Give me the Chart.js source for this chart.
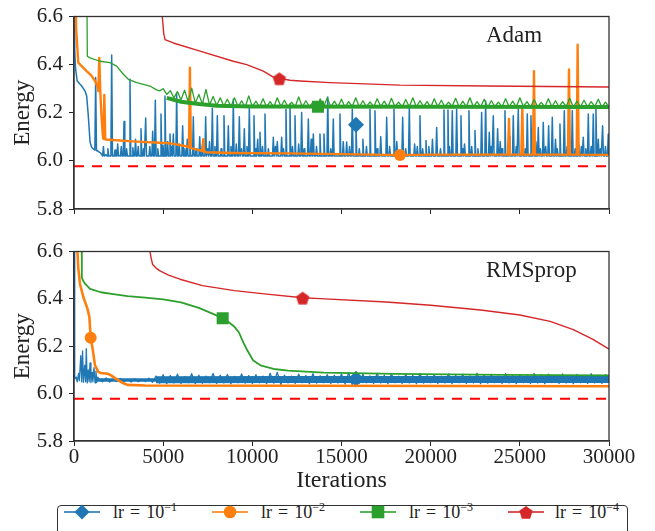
<!DOCTYPE html>
<html>
<head>
<meta charset="utf-8">
<script src="https://cdn.jsdelivr.net/npm/chart.js@4.4.0/dist/chart.umd.min.js"></script>
<style>
  body { margin: 0; width: 655px; height: 531px; overflow: hidden; background: #fff; font-family: "Liberation Serif", serif; }
  .panel { position: absolute; left: 0; width: 655px; }
  #legend { position: absolute; left: 57px; top: 505px; width: 569px; height: 40px; border: 1px solid #333; border-radius: 4px; color: #222; }
  #legend svg { position: absolute; top: -3px; }
  #legend .txt { position: absolute; top: -4px; font-size: 18px; line-height: 20px; white-space: nowrap; }
  #legend .txt sup { font-size: 12px; vertical-align: 7px; line-height: 0; }
  #legend .eq { margin: 0 6px; }
</style>
</head>
<body>
<div class="panel" style="top:0;height:235px"><canvas id="adam"></canvas></div>
<div class="panel" style="top:235px;height:265px"><canvas id="rms"></canvas></div>
<div id="legend"></div>

<script>
const ITER_MAX = 30000;
const ENERGY_MIN = 5.8;
const ENERGY_MAX = 6.6;
const X_STEP = 5000;
const Y_STEP = 0.2;
const EXACT_ENERGY = 5.978;
const PANEL_TITLES = ['Adam', 'RMSprop'];
const LR_EXPONENTS = ['\u22121', '\u22122', '\u22123', '\u22124'];
const COLORS = ['#1f77b4', '#ff7f0e', '#2ca02c', '#d62728'];

// ---- Adam, lr = 1e-1 (blue): smooth start, then flat floor with needle spikes
const adamBlueBase = [[0,6.9],[40,6.46],[90,6.38],[180,6.332],[430,6.311],[620,6.29],[710,6.27],[800,6.19],[900,6.078],[990,6.057],[1080,6.05],[1170,6.045],[1260,6.042],[1500,6.032],[1800,6.026],[2500,6.022],[30000,6.02]];
const adamBlueFloor = 6.02;
const adamBlueSpikes = [[1215,6.346,6.045],[1650,6.06],[2113,6.44],[2450,6.07],[2804,6.164],[3140,6.339],[3450,6.09],[3757,6.133],[4020,6.178],[4412,6.123],[4560,6.252],[4878,6.195],[5102,6.27],[5250,6.08],[5383,6.112],[5570,6.112],[5757,6.281],[6093,6.146],[6350,6.09],[6691,6.183],[7050,6.1],[7383,6.183],[7600,6.08],[7757,6.219],[8037,6.188],[8411,6.188],[8654,6.146],[8934,6.256],[9100,6.07],[9271,6.183],[9551,6.133],[9832,6.222],[10093,6.188],[10300,6.09],[10429,6.119],[10710,6.195],[11177,6.098],[11400,6.08],[11644,6.098],[11887,6.215],[12111,6.236],[12392,6.188],[12600,6.07],[12765,6.201],[13140,6.174],[13300,6.09],[13420,6.112],[13793,6.112],[14017,6.112],[14230,6.265],[14540,6.174],[14915,6.195],[15100,6.08],[15289,6.078],[15606,6.215],[15813,6.15],[16200,6.09],[16597,6.215],[16877,6.208],[17200,6.1],[17533,6.181],[17943,6.215],[18100,6.08],[18430,6.181],[18803,6.222],[19100,6.07],[19400,6.188],[19737,6.085],[20100,6.09],[20336,6.139],[20746,6.211],[20970,6.211],[21213,6.208],[21456,6.215],[21699,6.188],[21900,6.07],[22147,6.208],[22484,6.126],[22858,6.201],[23082,6.249],[23287,6.119],[23512,6.188],[23755,6.133],[23900,6.08],[24166,6.208],[24400,6.1],[24633,6.188],[24914,6.215],[25138,6.085],[25418,6.195],[25624,6.188],[25900,6.08],[26035,6.139],[26315,6.16],[26614,6.146],[26820,6.181],[27000,6.09],[27250,6.153],[27493,6.208],[27942,6.208],[28300,6.07],[28558,6.098],[28839,6.195],[29119,6.195],[29268,6.215],[29400,6.09],[29642,6.146],[29960,6.112]];
// small flickers on the floor
const adamBlueFlickers = [[1900,6.05],[2300,6.045],[2650,6.06],[2950,6.05],[3300,6.055],[3600,6.06],[3900,6.05],[4250,6.06],[4700,6.05],[4990,6.065],[5470,6.06],[5900,6.07],[6220,6.05],[6500,6.06],[6850,6.05],[7200,6.065],[7500,6.05],[7900,6.06],[8250,6.05],[8800,6.06],[9400,6.05],[9700,6.06],[10200,6.05],[10570,6.06],[10900,6.05],[11300,6.06],[11750,6.05],[12250,6.06],[12900,6.05],[13600,6.06],[14400,6.05],[15450,6.06],[16000,6.05],[16400,6.06],[17000,6.05],[17700,6.06],[18600,6.05],[19250,6.06],[19550,6.05],[19900,6.06],[20550,6.05],[21050,6.06],[21800,6.05],[22300,6.06],[22650,6.05],[23400,6.06],[24000,6.05],[24800,6.06],[25300,6.05],[25750,6.06],[26150,6.05],[26450,6.06],[27100,6.05],[27650,6.06],[28100,6.05],[28450,6.06],[28700,6.05],[29000,6.06],[29520,6.05],[29800,6.06]];
const adamBlueMarker = [15813, 6.15];

// ---- Adam, lr = 1e-2 (orange)
const adamOrangeBase = [[60,6.9],[120,6.55],[240,6.408],[430,6.394],[710,6.373],[990,6.353],[1200,6.33],[1350,6.3],[1540,6.19],[1610,6.11],[1660,6.095],[1760,6.089],[3500,6.08],[5380,6.073],[6100,6.064],[6400,6.058],[6600,6.052],[6900,6.047],[7100,6.043],[7400,6.036],[8900,6.033],[12000,6.031],[15000,6.028],[20000,6.026],[30000,6.025]];
const adamOrangeFloor = 6.026;
const adamOrangeSpikes = [[1419,6.428,6.29],[1700,6.274,6.092],[6500,6.387,6.055],[7250,6.09,6.04],[24390,6.174],[25138,6.222],[25792,6.373],[27755,6.38],[28242,6.483]];
const adamOrangeMarker = [18279, 6.024];

// ---- Adam, lr = 1e-3 (green): smooth start, solid band core, noise sampled every 200 iterations
const adamGreenBase = [[700,6.9],[748,6.435],[897,6.428],[1458,6.414],[2019,6.408],[2392,6.394],[2766,6.36],[3046,6.339],[3514,6.325],[4261,6.311],[4600,6.296]];
const adamGreenCore = [[5200,6.262],[6000,6.246],[7000,6.236],[8000,6.229],[10000,6.226],[20000,6.225],[30000,6.224]];
const adamGreenNoiseStart = 4800;
const adamGreenNoiseStep = 200;
const adamGreenNoise = [
  6.291,6.300,6.276,6.292,6.262,6.288,6.253,6.294,6.246,6.302,
  6.240,6.276,6.236,6.297,6.232,6.268,6.230,6.262,6.228,6.256,
  6.226,6.262,6.225,6.250,6.224,6.270,6.226,6.248,6.224,6.258,
  6.225,6.246,6.223,6.262,6.226,6.252,6.224,6.244,6.225,6.266,
  6.224,6.250,6.226,6.243,6.222,6.258,6.225,6.262,6.224,6.248,
  6.225,6.256,6.223,6.246,6.226,6.262,6.224,6.250,6.225,6.245,
  6.224,6.258,6.226,6.248,6.223,6.260,6.225,6.244,6.224,6.255,
  6.225,6.262,6.224,6.250,6.226,6.246,6.223,6.258,6.225,6.252,
  6.224,6.244,6.226,6.260,6.223,6.248,6.225,6.262,6.224,6.246,
  6.225,6.256,6.223,6.250,6.226,6.244,6.224,6.258,6.225,6.248,
  6.224,6.262,6.226,6.246,6.223,6.255,6.225,6.243,6.224,6.258,
  6.225,6.250,6.224,6.246,6.226,6.260,6.223,6.248,6.225,6.252,
  6.224,6.246,6.226,6.256,6.223,6.244,6.225];
const adamGreenMarker = [13681, 6.225];

// ---- Adam, lr = 1e-4 (red)
const adamRedBase = [[4900,6.9],[4950,6.6],[5030,6.53],[5102,6.504],[5570,6.49],[7065,6.456],[8934,6.414],[9682,6.4],[10615,6.373],[11177,6.348],[12111,6.335],[12672,6.332],[14354,6.325],[18279,6.315],[23140,6.311],[30000,6.307]];
const adamRedMarker = [11513, 6.343];

// ---- RMSprop, lr = 1e-1 (blue): early bursts, solid band core, noise every 200 iterations
const rmsBlueBase = [[0,6.9],[40,6.062],[120,6.07],[180,6.05],[250,6.085],[300,6.055],[380,6.16],[430,6.05],[480,6.18],[530,6.048],[600,6.12],[650,6.05],[690,6.19],[740,6.045],[800,6.1],[850,6.05],[900,6.13],[950,6.047],[1010,6.09],[1060,6.05],[1120,6.11],[1180,6.046],[1230,6.095],[1280,6.048],[1330,6.07]];
const rmsBlueCoreEarly = [[1300,6.057],[4700,6.057]];
const rmsBlueCore = [[4600,6.059],[12000,6.06],[30000,6.06]];
const rmsBlueNoiseStart = 1400;
const rmsBlueNoiseStep = 200;
const rmsBlueNoise = [
  6.062,6.050,6.066,6.049,6.060,6.051,6.064,6.050,6.061,6.049,
  6.063,6.050,6.060,6.051,6.065,6.048,6.074,6.044,6.080,6.042,
  6.076,6.045,6.082,6.043,6.072,6.046,6.084,6.042,6.078,6.044,
  6.074,6.046,6.085,6.043,6.077,6.045,6.081,6.042,6.073,6.046,
  6.083,6.044,6.076,6.043,6.080,6.046,6.074,6.042,6.086,6.044,
  6.090,6.038,6.078,6.045,6.074,6.043,6.082,6.046,6.076,6.042,
  6.084,6.044,6.075,6.046,6.080,6.043,6.077,6.045,6.083,6.040,
  6.088,6.038,6.079,6.044,6.082,6.046,6.075,6.043,6.086,6.045,
  6.078,6.042,6.084,6.046,6.074,6.043,6.081,6.045,6.077,6.042,
  6.085,6.044,6.076,6.046,6.080,6.043,6.074,6.045,6.083,6.042,
  6.077,6.046,6.082,6.043,6.075,6.045,6.086,6.042,6.079,6.044,
  6.081,6.046,6.074,6.043,6.084,6.045,6.077,6.042,6.080,6.046,
  6.076,6.043,6.085,6.045,6.078,6.042,6.082,6.046,6.074,6.043,
  6.083,6.045,6.077,6.042,6.081,6.046,6.075,6.043,6.084,6.045,
  6.078,6.043,6.080,6.046];
const rmsBlueMarker = [15813, 6.063];

// ---- RMSprop, lr = 1e-2 (orange)
const rmsOrangeBase = [[180,6.62],[240,6.53],[336,6.463],[523,6.408],[748,6.36],[860,6.325],[1047,6.188],[1178,6.119],[1364,6.092],[1500,6.087],[1900,6.084],[2100,6.076],[2400,6.06],[2700,6.046],[3000,6.037],[4000,6.034],[30000,6.031]];
const rmsOrangeMarker = [935, 6.236];

// ---- RMSprop, lr = 1e-3 (green)
const rmsGreenBase = [[420,6.9],[440,6.49],[520,6.475],[630,6.463],[900,6.442],[1500,6.428],[2200,6.42],[3000,6.412],[4000,6.405],[5000,6.398],[6000,6.385],[7000,6.362],[7700,6.34],[8700,6.3],[9000,6.282],[9250,6.258],[9500,6.215],[9700,6.185],[10050,6.14],[10500,6.118],[11200,6.104],[12000,6.097],[14000,6.089],[18000,6.083],[24000,6.079],[30000,6.077]];
const rmsGreenMarker = [8337, 6.318];

// ---- RMSprop, lr = 1e-4 (red)
const rmsRedBase = [[4200,6.9],[4260,6.6],[4330,6.57],[4411,6.545],[4600,6.53],[4822,6.518],[5300,6.5],[5943,6.483],[7200,6.456],[9000,6.435],[10800,6.42],[13800,6.401],[17500,6.387],[20000,6.373],[22800,6.353],[25000,6.332],[26700,6.305],[28000,6.27],[29100,6.229],[30000,6.188]];
const rmsRedMarker = [12823, 6.405];

// ---------------------------------------------------------------
const grid = (start, step, values) => values.map((y, i) => [start + i * step, y]);

function buildSeries(base, marker, spikes = [], floor = 0, half = 45) {
  const pts = base.map(([x, y]) => ({x, y}));
  spikes.forEach(([x, y, f = floor]) => {
    pts.push({x: x - half, y: f}, {x, y}, {x: x + half, y: f});
  });
  if (marker) pts.push({x: marker[0], y: marker[1], m: true});
  return pts.sort((a, b) => a.x - b.x);
}

function pentagonImage(r, color) {
  const c = document.createElement('canvas');
  const s = Math.ceil(r * 2 + 2);
  c.width = c.height = s;
  const g = c.getContext('2d');
  g.fillStyle = color;
  g.beginPath();
  for (let k = 0; k < 5; k++) {
    const a = -Math.PI / 2 + k * 2 * Math.PI / 5;
    g.lineTo(s / 2 + r * Math.cos(a), s / 2 + 1 + r * Math.sin(a));
  }
  g.closePath();
  g.fill();
  return c;
}

const MARKERS = [
  {style: 'rectRot', radius: 8},
  {style: 'circle', radius: 6},
  {style: 'rect', radius: 8.5},
  {style: pentagonImage(7, COLORS[3]), radius: 7}
];

function curve(data, i, width) {
  return {
    data,
    borderColor: COLORS[i],
    backgroundColor: COLORS[i],
    borderWidth: width,
    borderJoinStyle: 'round',
    tension: 0,
    pointStyle: MARKERS[i].style,
    pointRadius: c => (c.raw && c.raw.m ? MARKERS[i].radius : 0),
    pointBorderWidth: 0,
    pointHoverRadius: 0,
    order: 4 - i
  };
}

// solid part of a noisy band, drawn under the noise of the same run
function core(points, i, width) {
  return {
    data: points.map(([x, y]) => ({x, y})),
    borderColor: COLORS[i],
    borderWidth: width,
    borderCapStyle: 'butt',
    tension: 0,
    pointRadius: 0,
    order: 4.5 - i
  };
}

function reference() {
  return {
    data: [{x: 0, y: EXACT_ENERGY}, {x: ITER_MAX, y: EXACT_ENERGY}],
    borderColor: '#ff0000',
    borderWidth: 2,
    borderDash: [10, 8],
    pointRadius: 0,
    order: 6
  };
}

const framePlugin = {
  id: 'frame',
  afterDatasetsDraw(chart, args, opts) {
    const {ctx, chartArea: a} = chart;
    ctx.save();
    ctx.strokeStyle = '#333';
    ctx.lineWidth = 1.3;
    ctx.strokeRect(a.left, a.top, a.right - a.left, a.bottom - a.top);
    ctx.font = '23px "Liberation Serif"';
    ctx.fillStyle = '#222';
    ctx.textBaseline = 'alphabetic';
    ctx.fillText(opts.title, a.left + 412, a.top + 25.5);
    ctx.restore();
  }
};

Chart.defaults.font.family = '"Liberation Serif", serif';
Chart.defaults.color = '#222';

function makeChart(id, datasets, title, isBottom) {
  const top = isBottom ? 12 : 15;
  return new Chart(document.getElementById(id), {
    type: 'line',
    data: {datasets},
    plugins: [framePlugin],
    options: {
      responsive: true,
      maintainAspectRatio: false,
      animation: false,
      devicePixelRatio: 1,
      parsing: false,
      normalized: true,
      events: [],
      layout: {padding: {left: 0, right: 46, top, bottom: 0}},
      plugins: {
        legend: {display: false},
        tooltip: {enabled: false},
        frame: {title}
      },
      scales: {
        x: {
          type: 'linear',
          min: 0,
          max: ITER_MAX,
          afterFit: s => { s.height = isBottom ? 59 : 26; },
          ticks: {
            stepSize: X_STEP,
            maxRotation: 0,
            padding: 1,
            font: {size: 21, lineHeight: 1},
            callback: v => (isBottom ? String(v) : '')
          },
          grid: {drawOnChartArea: false, drawTicks: true, tickLength: 5, color: '#222'},
          border: {color: '#333', width: 1.3},
          title: {
            display: isBottom,
            text: 'Iterations',
            font: {size: 24},
            padding: {top: 0, bottom: 5}
          }
        },
        y: {
          min: ENERGY_MIN,
          max: ENERGY_MAX,
          afterFit: s => { s.width = 74; },
          ticks: {
            stepSize: Y_STEP,
            padding: 6,
            font: {size: 21, lineHeight: 1},
            callback: v => v.toFixed(1)
          },
          grid: {drawOnChartArea: false, drawTicks: true, tickLength: 5, color: '#222'},
          border: {color: '#333', width: 1.3},
          title: {
            display: true,
            text: 'Energy',
            font: {size: 23},
            padding: {top: 9, bottom: 0}
          }
        }
      }
    }
  });
}

makeChart('adam', [
  curve(buildSeries(adamBlueBase, adamBlueMarker, adamBlueSpikes.concat(adamBlueFlickers), adamBlueFloor, 45), 0, 1.5),
  curve(buildSeries(adamOrangeBase, adamOrangeMarker, adamOrangeSpikes, adamOrangeFloor, 55), 1, 2.4),
  core(adamGreenCore, 2, 4),
  curve(buildSeries(adamGreenBase.concat(grid(adamGreenNoiseStart, adamGreenNoiseStep, adamGreenNoise)), adamGreenMarker), 2, 1.3),
  curve(buildSeries(adamRedBase, adamRedMarker), 3, 1.4),
  reference()
], PANEL_TITLES[0], false);

makeChart('rms', [
  core(rmsBlueCoreEarly, 0, 3.5),
  core(rmsBlueCore, 0, 7),
  curve(buildSeries(rmsBlueBase.concat(grid(rmsBlueNoiseStart, rmsBlueNoiseStep, rmsBlueNoise)), rmsBlueMarker), 0, 1.3),
  curve(buildSeries(rmsOrangeBase, rmsOrangeMarker), 1, 2.6),
  curve(buildSeries(rmsGreenBase, rmsGreenMarker), 2, 1.8),
  curve(buildSeries(rmsRedBase, rmsRedMarker), 3, 1.4),
  reference()
], PANEL_TITLES[1], true);

// ---- legend (HTML, under the lower panel)
const LEGEND_ICON_LEFT = [6, 154, 302, 450];
const LEGEND_TEXT_LEFT = [55, 203, 351, 497];
function markerSvg(i) {
  const c = COLORS[i];
  if (i === 0) return `<polygon points="18,1.5 25.5,9 18,16.5 10.5,9" fill="${c}"/>`;
  if (i === 1) return `<circle cx="18" cy="9" r="6.3" fill="${c}"/>`;
  if (i === 2) return `<rect x="11.7" y="2.7" width="12.6" height="12.6" fill="${c}"/>`;
  const p = [];
  for (let k = 0; k < 5; k++) {
    const a = -Math.PI / 2 + k * 2 * Math.PI / 5;
    p.push((18 + 7 * Math.cos(a)).toFixed(2) + ',' + (10 + 7 * Math.sin(a)).toFixed(2));
  }
  return `<polygon points="${p.join(' ')}" fill="${c}"/>`;
}
const legend = document.getElementById('legend');
legend.innerHTML = LR_EXPONENTS.map((e, i) =>
  `<svg width="36" height="18" style="left:${LEGEND_ICON_LEFT[i]}px">` +
  `<line x1="0" y1="9" x2="36" y2="9" stroke="${COLORS[i]}" stroke-width="2" stroke-opacity="0.8"/>${markerSvg(i)}</svg>` +
  `<span class="txt" style="left:${LEGEND_TEXT_LEFT[i]}px">lr<span class="eq">=</span>10<sup>${e}</sup></span>`
).join('');
</script>
</body>
</html>
